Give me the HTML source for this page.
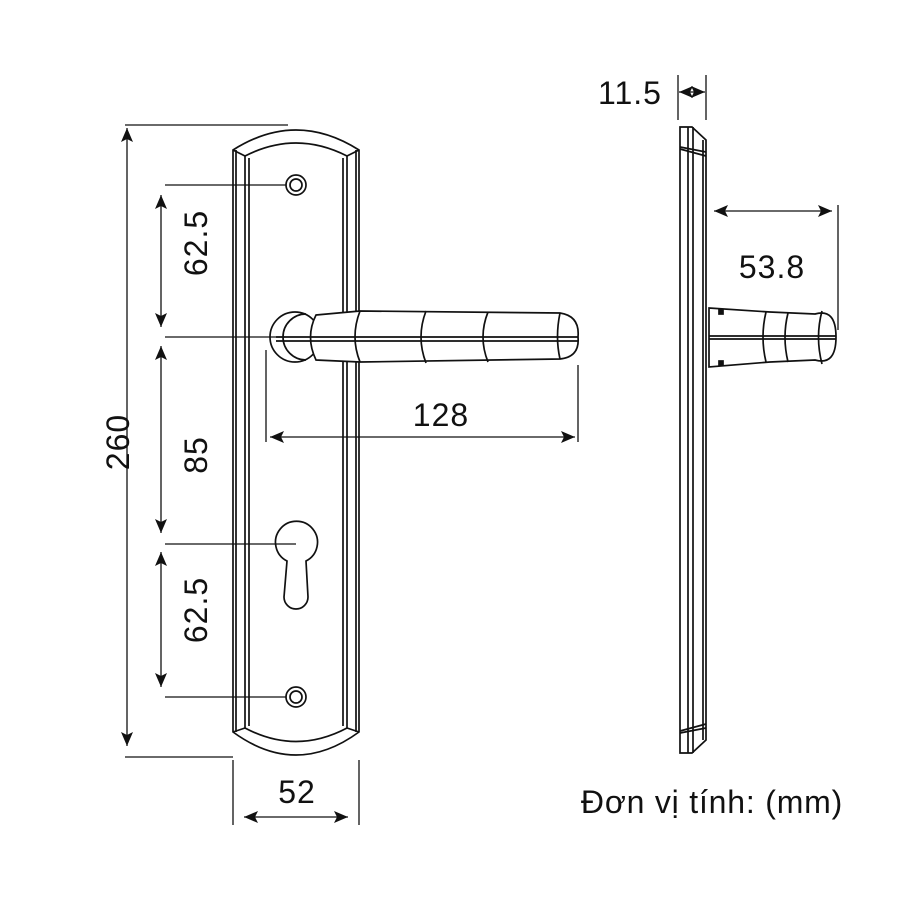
<!DOCTYPE html>
<html><head><meta charset="utf-8"><style>body{margin:0;background:#fff}svg{display:block}text{font-family:"Liberation Sans",sans-serif;fill:#111}</style></head>
<body>
<svg width="900" height="900" viewBox="0 0 900 900" xmlns="http://www.w3.org/2000/svg">
<defs>
<marker id="a" viewBox="0 0 14 12" refX="14" refY="6" markerWidth="14" markerHeight="12" orient="auto-start-reverse" markerUnits="userSpaceOnUse"><path d="M0,0 L14,6 L0,12 L3,6 z" fill="#111"/></marker>
</defs>
<g fill="none" stroke="#111" stroke-width="1.7">
<path d="M233,150 Q296,110 359,150 L359,732 Q296,778 233,732 Z"/>
<path d="M245,156 Q296,130 347,156"/>
<path d="M245,728 Q296,755 347,728"/>
<line x1="233" y1="150" x2="245" y2="156"/><line x1="359" y1="150" x2="347" y2="156"/>
<line x1="233" y1="732" x2="245" y2="728"/><line x1="359" y1="732" x2="347" y2="728"/>
<line x1="236" y1="150" x2="236" y2="732"/>
<line x1="245" y1="156" x2="245" y2="728"/><line x1="249" y1="158" x2="249" y2="726"/>
<line x1="343" y1="158" x2="343" y2="726"/><line x1="347" y1="156" x2="347" y2="728"/>
<line x1="356" y1="150" x2="356" y2="732"/>
<circle cx="296" cy="185" r="10"/><circle cx="296" cy="185" r="6"/>
<circle cx="296" cy="697" r="10"/><circle cx="296" cy="697" r="6"/>
<path d="M287,561 A21,21 0 1 1 306,561 L308,597 A11,11 0 0 1 284,597 Z"/>
<circle cx="295" cy="337" r="25" fill="#fff"/>
<path d="M306,314 A23,23 0 1 0 306,360"/>
<path d="M316,315 L360,311 L560,313 Q580,316 578,337 Q580,357 560,359 L360,362 L316,360 Q305,337 316,315 Z" fill="#fff"/>
<line x1="276" y1="337" x2="578" y2="337"/><line x1="276" y1="341" x2="578" y2="341"/>
<path d="M360,311 Q350,337 360,362"/><path d="M426,311 Q416,337 426,363"/>
<path d="M488,312 Q478,337 488,362"/><path d="M560,313 Q555,337 560,359"/>
<path d="M680,127 L692,127 L706,140 L706,740 L692,753 L680,753 Z"/>
<line x1="680" y1="147" x2="706" y2="152"/><line x1="680" y1="149" x2="706" y2="156"/>
<line x1="680" y1="733" x2="706" y2="728"/><line x1="680" y1="731" x2="706" y2="724"/>
<line x1="688" y1="127" x2="688" y2="753"/><line x1="693" y1="127" x2="693" y2="753"/><line x1="703" y1="140" x2="703" y2="740"/>
<path d="M709,308 L770,312 L815,314 Q836,308 836,337 Q836,366 815,360 L770,362 L709,367 Z" fill="#fff"/>
<line x1="709" y1="336" x2="836" y2="336"/><line x1="709" y1="339" x2="836" y2="339"/>
<path d="M766,312 Q760,337 766,362"/><path d="M788,313 Q782,337 788,362"/><path d="M822,311 Q815,337 822,364"/>
<rect x="719" y="310" width="4" height="4" fill="#111"/><rect x="719" y="361" width="4" height="4" fill="#111"/>
</g>
<g stroke="#111" stroke-width="1.3" fill="none">
<line x1="125" y1="125" x2="288" y2="125"/>
<line x1="125" y1="757" x2="233" y2="757"/>
<line x1="165" y1="185" x2="286" y2="185"/>
<line x1="165" y1="337" x2="285" y2="337"/>
<line x1="165" y1="544" x2="296" y2="544"/>
<line x1="165" y1="697" x2="286" y2="697"/>
<line x1="266" y1="350" x2="266" y2="442"/>
<line x1="578" y1="365" x2="578" y2="442"/>
<line x1="233" y1="760" x2="233" y2="825"/>
<line x1="359" y1="760" x2="359" y2="825"/>
<line x1="678" y1="75" x2="678" y2="120"/>
<line x1="706" y1="75" x2="706" y2="120"/>
<line x1="838" y1="205" x2="838" y2="330"/>
<g marker-start="url(#a)" marker-end="url(#a)">
<line x1="127" y1="128" x2="127" y2="746"/>
<line x1="161" y1="195" x2="161" y2="327"/>
<line x1="161" y1="346" x2="161" y2="533"/>
<line x1="161" y1="552" x2="161" y2="687"/>
<line x1="270" y1="437" x2="575" y2="437"/>
<line x1="244" y1="817" x2="348" y2="817"/>
<line x1="714" y1="211" x2="832" y2="211"/>
<line x1="679" y1="92" x2="705" y2="92"/>
</g>
</g>
<g font-size="32" letter-spacing="1">
<text transform="translate(129,442) rotate(-90)" text-anchor="middle">260</text>
<text transform="translate(207,243) rotate(-90)" text-anchor="middle">62.5</text>
<text transform="translate(207,455) rotate(-90)" text-anchor="middle">85</text>
<text transform="translate(207,610) rotate(-90)" text-anchor="middle">62.5</text>
<text x="441" y="426" text-anchor="middle">128</text>
<text x="297" y="803" text-anchor="middle">52</text>
<text x="772" y="278" text-anchor="middle">53.8</text>
<text x="630" y="104" text-anchor="middle">11.5</text>
<text x="712" y="813" text-anchor="middle" letter-spacing="0.8">Đơn vị tính: (mm)</text>
</g>
</svg>
</body></html>
